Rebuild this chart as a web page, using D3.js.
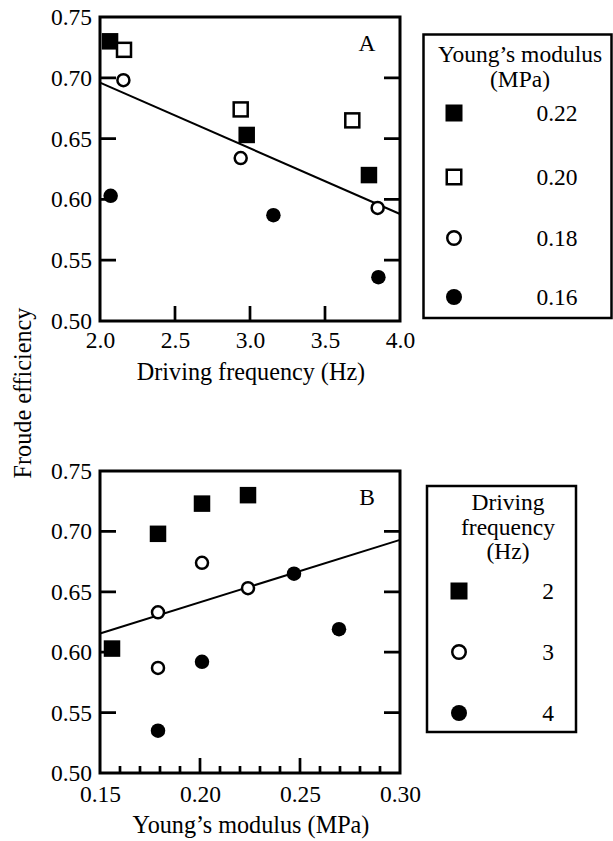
<!DOCTYPE html>
<html><head><meta charset="utf-8">
<script src="https://cdn.jsdelivr.net/npm/d3@7"></script>
<style>
html,body{margin:0;padding:0;background:#fff;}
svg text{font-family:"Liberation Serif","Times New Roman",serif;fill:#000;}
</style></head>
<body><svg id="chart" width="613" height="841" font-family="Liberation Serif"></svg>
<script>
// ---------- Data ----------
// Panel A: Froude efficiency vs driving frequency, grouped by Young's modulus
const modulusLabels = ["0.22", "0.20", "0.18", "0.16"];
const modulusSymbols = ["filledSquare", "openSquare", "openCircle", "filledCircle"];
const freqA_022 = [2.067, 2.978, 3.793];
const effA_022  = [0.730, 0.653, 0.620];
const freqA_020 = [2.160, 2.938, 3.682];
const effA_020  = [0.723, 0.674, 0.665];
const freqA_018 = [2.156, 2.938, 3.851];
const effA_018  = [0.698, 0.634, 0.593];
const freqA_016 = [2.071, 3.156, 3.856];
const effA_016  = [0.603, 0.587, 0.536];
const fitA_x = [2.0, 4.0];
const fitA_y = [0.696, 0.588];

// Panel B: Froude efficiency vs Young's modulus, grouped by driving frequency
const freqLabels = ["2", "3", "4"];
const freqSymbols = ["filledSquare", "openCircle", "filledCircle"];
const modB_2 = [0.156, 0.179, 0.201, 0.224];
const effB_2 = [0.603, 0.698, 0.723, 0.730];
const modB_3 = [0.179, 0.179, 0.201, 0.224];
const effB_3 = [0.633, 0.587, 0.674, 0.653];
const modB_4 = [0.179, 0.201, 0.247, 0.2695];
const effB_4 = [0.535, 0.592, 0.665, 0.619];
const fitB_x = [0.15, 0.30];
const fitB_y = [0.6155, 0.693];

// Ticks
const yTicks = [0.50, 0.55, 0.60, 0.65, 0.70, 0.75];
const xTicksA = [2.0, 2.5, 3.0, 3.5, 4.0];
const xTicksB = [0.15, 0.20, 0.25, 0.30];
const xMinorB = [0.16,0.17,0.18,0.19,0.21,0.22,0.23,0.24,0.26,0.27,0.28,0.29];

// ---------- Drawing ----------
const svg = d3.select("#chart");
const FS = 23.5;
const FT = 24.2;
const FF = '"Liberation Serif","Times New Roman",serif';

function drawMarker(g, type, cx, cy, big) {
  const s = big ? 17 : 16.5;
  const r = big ? 8 : 7.25;
  if (type === "filledSquare") {
    g.append("rect").attr("x", cx - s/2).attr("y", cy - s/2).attr("width", s).attr("height", s).attr("fill", "#000");
  } else if (type === "openSquare") {
    const si = s - 2.5;
    g.append("rect").attr("x", cx - si/2).attr("y", cy - si/2).attr("width", si).attr("height", si)
      .attr("fill", "#fff").attr("stroke", "#000").attr("stroke-width", 2.5);
  } else if (type === "openCircle") {
    g.append("circle").attr("cx", cx).attr("cy", cy).attr("r", r - 1.25)
      .attr("fill", "#fff").attr("stroke", "#000").attr("stroke-width", 2.5);
  } else {
    g.append("circle").attr("cx", cx).attr("cy", cy).attr("r", r).attr("fill", "#000");
  }
}

function panel(opts) {
  const x = d3.scaleLinear().domain(opts.xDomain).range([100, 400]);
  const y = d3.scaleLinear().domain([0.5, 0.75]).range([opts.bottom, opts.top]);
  const g = svg.append("g");

  // regression line
  g.append("line")
    .attr("x1", x(opts.fitX[0])).attr("y1", y(opts.fitY[0]))
    .attr("x2", x(opts.fitX[1])).attr("y2", y(opts.fitY[1]))
    .attr("stroke", "#000").attr("stroke-width", 2);

  // points
  opts.series.forEach(s => {
    s.xs.forEach((xv, i) => drawMarker(g, s.sym, x(xv), y(s.ys[i]), false));
  });

  // tick labels via d3 axes
  const la = g.append("g").attr("transform", "translate(100,0)")
    .call(d3.axisLeft(y).tickValues(yTicks).tickSize(0).tickPadding(8).tickFormat(d3.format(".2f")));
  const ba = g.append("g").attr("transform", `translate(0,${opts.bottom})`)
    .call(d3.axisBottom(x).tickValues(opts.xTicks).tickSize(0).tickPadding(opts.xPad).tickFormat(opts.xFormat));
  [la, ba].forEach(a => {
    a.attr("font-family", FF).attr("font-size", FS);
    a.select(".domain").remove();
    a.selectAll("line").remove();
    a.selectAll("text").attr("font-family", FF).attr("font-size", FS).attr("fill", "#000");
  });

  // inward tick marks as one path
  const inner = yTicks.slice(1, -1);
  const p = d3.path();
  inner.forEach(d => { p.moveTo(100, y(d)); p.lineTo(116, y(d)); p.moveTo(384, y(d)); p.lineTo(400, y(d)); });
  opts.xTicks.slice(1, -1).forEach(d => { p.moveTo(x(d), opts.bottom); p.lineTo(x(d), opts.bottom - 15); });
  if (opts.minor) opts.minor.forEach(d => { p.moveTo(x(d), opts.bottom); p.lineTo(x(d), opts.bottom - 7); });
  g.append("path").attr("d", p.toString()).attr("fill", "none").attr("stroke", "#000").attr("stroke-width", 2.7);

  // frame
  g.append("rect").attr("x", 100).attr("y", opts.top).attr("width", 300).attr("height", opts.bottom - opts.top)
    .attr("fill", "none").attr("stroke", "#000").attr("stroke-width", 3);

  // panel letter
  g.append("text").attr("x", 367).attr("y", opts.top + 34).attr("text-anchor", "middle")
    .attr("font-size", FS).text(opts.letter);

  // x title
  g.append("text").attr("x", 251).attr("y", opts.titleY).attr("text-anchor", "middle")
    .attr("font-size", FT).text(opts.xTitle);

  // legend
  const L = opts.legend;
  g.append("rect").attr("x", L.x0).attr("y", L.y0).attr("width", L.x1 - L.x0).attr("height", L.y1 - L.y0)
    .attr("fill", "#fff").attr("stroke", "#000").attr("stroke-width", 2.5);
  L.title.forEach((t, i) => {
    g.append("text").attr("x", L.titleX).attr("y", L.titleYs[i]).attr("text-anchor", "middle")
      .attr("font-size", FS).text(t);
  });
  L.labels.forEach((lab, i) => {
    drawMarker(g, L.syms[i], L.markX, L.rows[i], true);
    g.append("text").attr("x", L.labelX).attr("y", L.rows[i] + 7.5).attr("text-anchor", "middle")
      .attr("font-size", FS).text(lab);
  });
}

panel({
  xDomain: [2, 4], top: 17, bottom: 321,
  fitX: fitA_x, fitY: fitA_y,
  series: [
    {xs: freqA_022, ys: effA_022, sym: modulusSymbols[0]},
    {xs: freqA_020, ys: effA_020, sym: modulusSymbols[1]},
    {xs: freqA_018, ys: effA_018, sym: modulusSymbols[2]},
    {xs: freqA_016, ys: effA_016, sym: modulusSymbols[3]}
  ],
  xTicks: xTicksA, xFormat: d3.format(".1f"), xPad: 10.5,
  letter: "A", xTitle: "Driving frequency (Hz)", titleY: 380,
  legend: {
    x0: 423.5, y0: 34.5, x1: 611.5, y1: 318,
    title: ["Young\u2019s modulus", "(MPa)"], titleX: 520, titleYs: [62, 87],
    syms: modulusSymbols, labels: modulusLabels,
    markX: 454, labelX: 557, rows: [113, 177, 238, 297]
  }
});

panel({
  xDomain: [0.15, 0.30], top: 471, bottom: 773,
  fitX: fitB_x, fitY: fitB_y,
  series: [
    {xs: modB_2, ys: effB_2, sym: freqSymbols[0]},
    {xs: modB_3, ys: effB_3, sym: freqSymbols[1]},
    {xs: modB_4, ys: effB_4, sym: freqSymbols[2]}
  ],
  xTicks: xTicksB, xFormat: d3.format(".2f"), xPad: 12.5, minor: xMinorB,
  letter: "B", xTitle: "Young\u2019s modulus (MPa)", titleY: 833,
  legend: {
    x0: 427, y0: 486, x1: 576, y1: 732,
    title: ["Driving", "frequency", "(Hz)"], titleX: 508, titleYs: [510, 535, 559],
    syms: freqSymbols, labels: freqLabels,
    markX: 459, labelX: 548, rows: [591, 652, 713]
  }
});

// shared y-axis title
svg.append("text").attr("transform", "translate(31,393) rotate(-90)").attr("text-anchor", "middle")
  .attr("font-size", FT).text("Froude efficiency");
</script>
</body></html>
